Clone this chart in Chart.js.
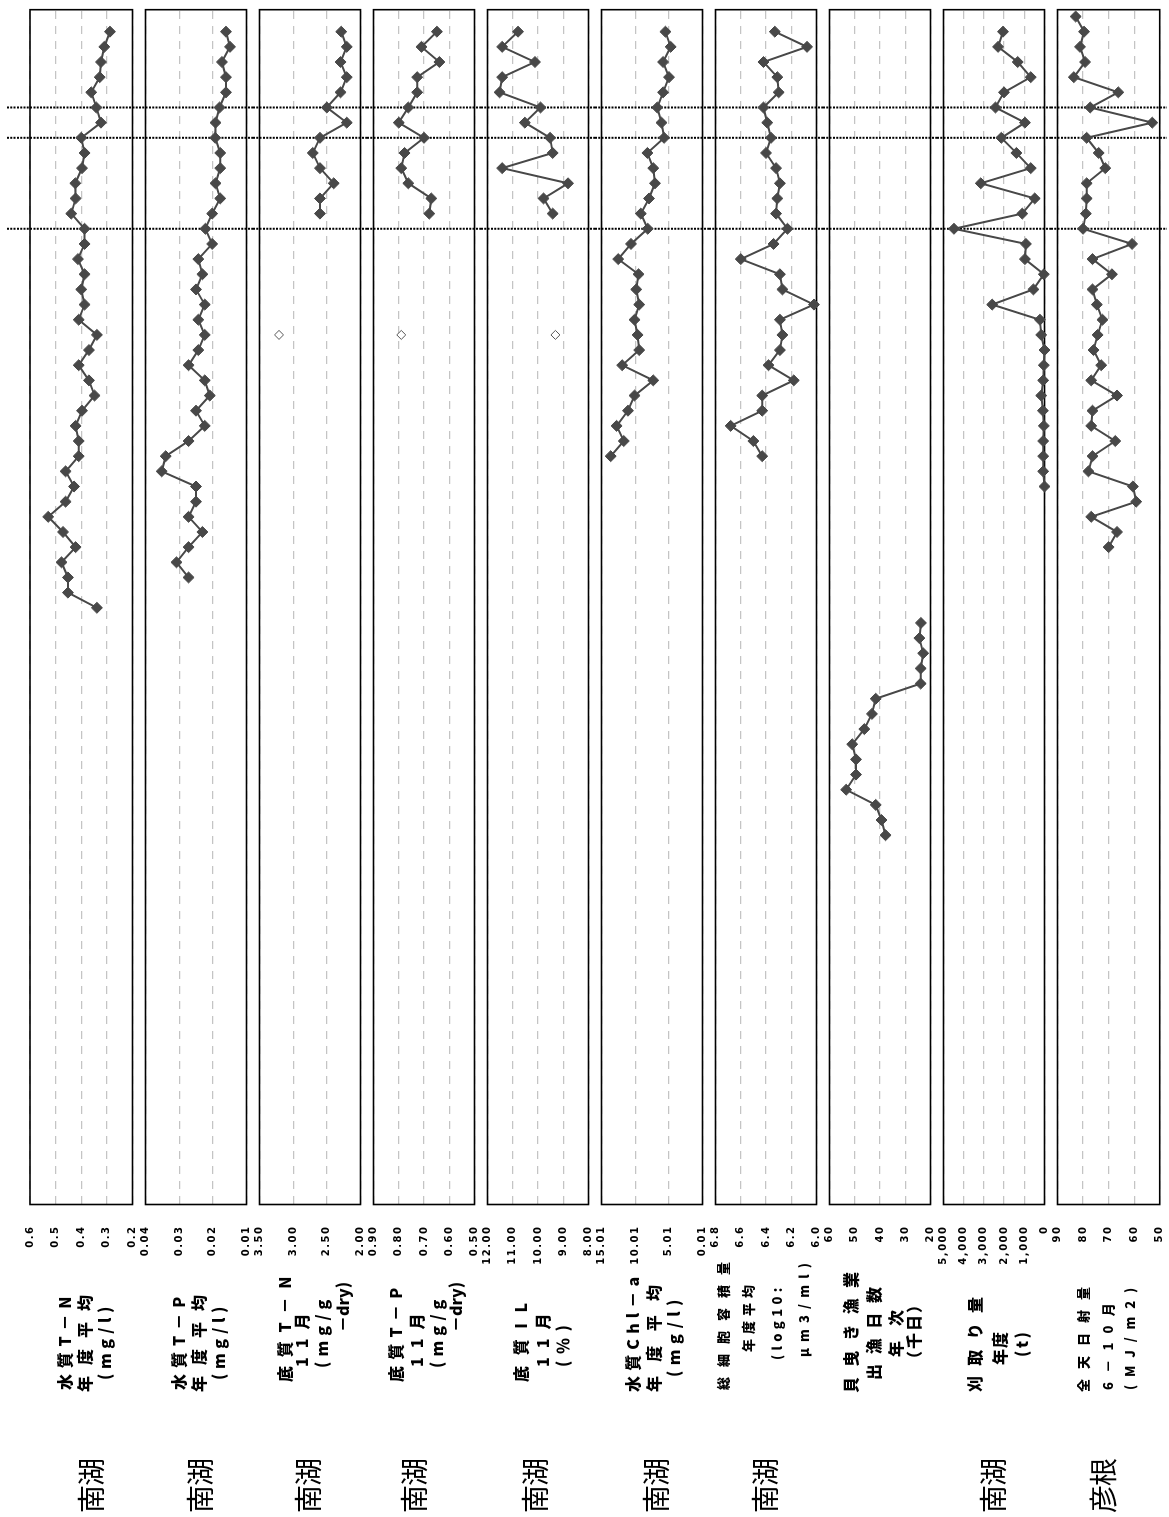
<!DOCTYPE html>
<html>
<head>
<meta charset="utf-8">
<title>南湖 経年変化</title>
<script src="https://cdn.jsdelivr.net/npm/chart.js@4.4.1/dist/chart.umd.min.js"></script>
<style>
  html, body { margin: 0; padding: 0; background: #fff; overflow: hidden; }
  /* 横向きの図を作って -90度回転させる */
  #page { position: absolute; left: 0; top: 0; width: 1517px; height: 1169px;
          transform-origin: 0 0; transform: translateY(1517px) rotate(-90deg); }
  #page canvas { position: absolute; left: 0; }
  .ttl { position: absolute; white-space: pre; font-family: "Noto Sans CJK JP"; font-weight: 900; color: #000; line-height: 1; }
  .loc { position: absolute; white-space: pre; font-family: "Noto Sans CJK JP"; font-weight: 400; color: #000; line-height: 1; }
</style>
</head>
<body>
<div id="page"></div>
<script>
// 横軸（年次）
const yearMin = 1940.64;
const yearMax = 2019.45;
const markYears = [2005, 2011, 2013];

// 水質T-N 年度平均 (mg/l)
const tnWaterStart = 1980;
const tnWater = [0.339, 0.452, 0.452, 0.477, 0.422, 0.471, 0.529, 0.461, 0.428, 0.461,
  0.410, 0.410, 0.422, 0.397, 0.348, 0.370, 0.410, 0.370, 0.339, 0.410,
  0.387, 0.400, 0.387, 0.413, 0.387, 0.387, 0.439, 0.422, 0.423, 0.397,
  0.387, 0.400, 0.323, 0.341, 0.361, 0.328, 0.323, 0.310, 0.288];
const tnTicks = [0.2, 0.3, 0.4, 0.5, 0.6];

// 水質T-P 年度平均 (mg/l)
const tpWaterStart = 1982;
const tpWater = [0.0272, 0.0308, 0.0272, 0.0231, 0.0272, 0.0250, 0.0250, 0.0352, 0.0340, 0.0272,
  0.0224, 0.0250, 0.0209, 0.0224, 0.0272, 0.0243, 0.0224, 0.0243, 0.0224, 0.0250,
  0.0231, 0.0243, 0.0202, 0.0222, 0.0202, 0.0178, 0.0192, 0.0178, 0.0178, 0.0193,
  0.0192, 0.0180, 0.0161, 0.0161, 0.0173, 0.0149, 0.0161];
const tpTicks = [0.01, 0.02, 0.03, 0.04];

// 底質T-N 11月 (mg/g-dry)
const tnSedStart = 2006;
const tnSed = [2.602, 2.602, 2.398, 2.602, 2.709, 2.602, 2.204, 2.50, 2.296, 2.204, 2.296, 2.204, 2.286];
const tnSedOld = [1998, 3.21];
const tnSedTicks = [2.0, 2.5, 3.0, 3.5];

// 底質T-P 11月 (mg/g-dry)
const tpSedStart = 2006;
const tpSed = [0.679, 0.671, 0.762, 0.790, 0.777, 0.700, 0.800, 0.762, 0.727, 0.727, 0.639, 0.710, 0.649];
const tpSedOld = [1998, 0.79];
const tpSedTicks = [0.5, 0.6, 0.7, 0.8, 0.9];

// 底質IL 11月 (%)
const ilStart = 2006;
const il = [9.42, 9.78, 8.81, 11.42, 9.42, 9.52, 10.52, 9.90, 11.52, 11.42, 10.12, 11.42, 10.79];
const ilOld = [1998, 9.31];
const ilTicks = [8, 9, 10, 11, 12];

// 水質Chl-a 年度平均
const chlStart = 1990;
const chl = [13.65, 11.70, 12.77, 11.08, 10.10, 7.32, 11.94, 9.41, 9.65, 10.10,
  9.41, 9.85, 9.51, 12.53, 10.63, 8.14, 9.17, 7.95, 7.07, 7.32,
  8.19, 5.71, 6.10, 6.73, 5.86, 4.98, 5.86, 4.74, 5.52];
const chlTicks = [0.01, 5.01, 10.01, 15.01];

// 総細胞容積量 年度平均 (log10: μm3/ml)
const cellStart = 1990;
const cell = [6.43, 6.50, 6.68, 6.43, 6.43, 6.18, 6.38, 6.29, 6.27, 6.29,
  6.02, 6.27, 6.29, 6.60, 6.34, 6.23, 6.32, 6.31, 6.29, 6.32,
  6.40, 6.36, 6.39, 6.42, 6.30, 6.31, 6.42, 6.075, 6.33];
const cellTicks = [6.0, 6.2, 6.4, 6.6, 6.8];

// 貝曳き漁業 出漁日数 年次 (千日)
const shellStart = 1965;
const shell = [37.8, 39.4, 41.7, 53.4, 49.5, 49.5, 51.0, 46.2, 43.2, 41.7, 23.9, 23.9, 22.9, 24.4, 23.8];
const shellTicks = [20, 30, 40, 50, 60];

// 刈取り量 年度 (t)
const harvestStart = 1988;
const harvest = [0, 65, 65, 65, 32, 80, 162, 65, 32, 0,
  162, 227, 2589, 550, 32, 971, 922, 4482, 1100, 485,
  3155, 680, 1392, 2136, 971, 2427, 2006, 680, 1327, 2298, 2055];
const harvestTicks = [0, 1000, 2000, 3000, 4000, 5000];

// 全天日射量 6-10月 (MJ/m2) 彦根
const solarStart = 1984;
const solar = [70.0, 66.7, 76.8, 59.2, 60.5, 77.9, 76.3, 67.4, 76.8, 76.3,
  66.7, 76.8, 72.9, 75.9, 74.3, 72.4, 74.6, 76.3, 68.7, 76.3,
  60.8, 80.0, 78.9, 78.6, 78.6, 71.3, 73.9, 78.6, 52.9, 77.2,
  66.2, 83.6, 79.2, 81.2, 79.6, 82.9];
const solarTicks = [50, 60, 70, 80, 90];

const panels = [
  { start: tnWaterStart, values: tnWater, ticks: tnTicks, dec: 1, loc: '南湖', locY: 90,
    title: [['水質T－N', 127, 220, 63.5], ['年度平均', 125, 222, 83.5], ['(mg/l)', 137, 210, 103.5]] },
  { start: tpWaterStart, values: tpWater, ticks: tpTicks, dec: 2, loc: '南湖', locY: 199,
    title: [['水質T－P', 127, 220, 178], ['年度平均', 125, 222, 198], ['(mg/l)', 137, 210, 218]] },
  { start: tnSedStart, values: tnSed, open: tnSedOld, ticks: tnSedTicks, dec: 2, loc: '南湖', locY: 306.5,
    title: [['底質T－N', 135, 240, 283.5], ['11月', 150, 204, 300.5], ['(mg/g', 149, 217, 320.5], ['－dry)', 185, 235, 341.5]] },
  { start: tpSedStart, values: tpSed, open: tpSedOld, ticks: tpSedTicks, dec: 2, loc: '南湖', locY: 412.5,
    title: [['底質T－P', 135, 229, 395], ['11月', 150, 204, 416], ['(mg/g', 149, 217, 436], ['－dry)', 185, 235, 455]] },
  { start: ilStart, values: il, open: ilOld, ticks: ilTicks, dec: 2, loc: '南湖', locY: 533.5,
    title: [['底質IL', 135, 214, 520], ['11月', 150, 204, 542], ['(％)', 150, 192, 562]] },
  { start: chlStart, values: chl, ticks: chlTicks, dec: 2, loc: '南湖', locY: 655,
    title: [['水質Chl－a', 125, 240, 631.5], ['年度平均', 125, 232, 652.5], ['(mg/l)', 140, 217, 672.5]] },
  { start: cellStart, values: cell, ticks: cellTicks, dec: 1, loc: '南湖', locY: 763.5, fs: 13,
    title: [['総細胞容積量', 127, 255, 722.5], ['年度平均', 165, 232, 747.5], ['(log10:', 157, 229, 776.5], ['μm3/ml)', 160, 254, 803.5]] },
  { start: shellStart, values: shell, ticks: shellTicks, dec: 0, loc: '', locY: 0,
    title: [['貝曳き漁業', 124, 245, 850], ['出漁日数', 137, 230, 872.5], ['年次', 160, 207, 895], ['（千日）', 150, 220, 912.5]] },
  { start: harvestStart, values: harvest, ticks: harvestTicks, dec: 0, loc: '南湖', locY: 991.5,
    title: [['刈取り量', 125, 220, 973.5], ['年度', 152, 185, 999], ['(t)', 160, 185, 1021]] },
  { start: solarStart, values: solar, ticks: solarTicks, dec: 0, loc: '彦根', locY: 1101.5, fs: 13,
    title: [['全天日射量', 125, 230, 1082.5], ['6－10月', 127, 214, 1107.5], ['(MJ/m2)', 127, 229, 1129]] }
];

const page = document.getElementById('page');
const PITCH = 114.08, BOX_H = 103, TOP0 = 30;
const AREA_LEFT = 312.5, AREA_RIGHT = 1507.3;
const INK = '#484848';

function fmt(v, dec) {
  return Number(v).toLocaleString('en-US', { minimumFractionDigits: dec, maximumFractionDigits: dec });
}

// 文字列を x0〜x1 の幅に字間で合わせて置く
function placeText(cls, text, x0, x1, yc, size) {
  const s = document.createElement('span');
  s.className = cls;
  s.textContent = text;
  s.style.fontSize = size + 'px';
  s.style.left = x0 + 'px';
  s.style.top = (yc - size / 2) + 'px';
  page.appendChild(s);
  const n = [...text].length;
  if (n > 1) {
    const ls = (x1 - x0 - s.offsetWidth) / (n - 1);
    s.style.letterSpacing = ls + 'px';
  }
}

// 枠・縦の点線・字間
const framePlugin = {
  id: 'frame',
  beforeDraw(chart) {
    chart.ctx.letterSpacing = '1.5px';
  },
  beforeDatasetsDraw(chart, args, opts) {
    const { ctx, chartArea: a } = chart;
    const x = chart.scales.x;
    ctx.save();
    ctx.strokeStyle = '#000';
    ctx.lineWidth = 1.6;
    ctx.strokeRect(a.left, a.top, a.right - a.left, a.bottom - a.top);
    ctx.lineWidth = 2;
    ctx.setLineDash([2, 1.3]);
    markYears.forEach(yr => {
      const px = x.getPixelForValue(yr);
      ctx.beginPath();
      ctx.moveTo(px, opts.y0);
      ctx.lineTo(px, opts.y1);
      ctx.stroke();
    });
    ctx.restore();
  }
};

panels.forEach((p, i) => {
  const top = TOP0 + i * PITCH;
  const cTop = i === 0 ? 0 : Math.round(top - 5.5);
  const cBot = i === panels.length - 1 ? 1169 : Math.round(top + BOX_H + 5.5);
  const cv = document.createElement('canvas');
  cv.width = 1517;
  cv.height = cBot - cTop;
  cv.style.top = cTop + 'px';
  cv.style.width = '1517px';
  cv.style.height = (cBot - cTop) + 'px';
  page.appendChild(cv);

  const datasets = [{
    data: p.values.map((v, j) => ({ x: p.start + j, y: v })),
    borderColor: INK,
    backgroundColor: INK,
    borderWidth: 2,
    pointStyle: 'rectRot',
    pointRadius: 5.5,
    pointBorderWidth: 1,
    pointBorderColor: INK,
    pointBackgroundColor: INK,
    tension: 0,
    clip: false
  }];
  if (p.open) {
    datasets.push({
      data: [{ x: p.open[0], y: p.open[1] }],
      showLine: false,
      pointStyle: 'rectRot',
      pointRadius: 4.5,
      pointBackgroundColor: '#fff',
      pointBorderColor: '#555',
      pointBorderWidth: 1,
      clip: false
    });
  }

  new Chart(cv, {
    type: 'line',
    data: { datasets },
    options: {
      responsive: false,
      animation: false,
      devicePixelRatio: 1,
      layout: { padding: { left: 0, right: 1517 - AREA_RIGHT, top: top - cTop, bottom: cBot - (top + BOX_H) } },
      plugins: {
        legend: { display: false },
        tooltip: { enabled: false },
        frame: { y0: i === 0 ? 7 : 0, y1: i === panels.length - 1 ? 1167 - cTop : cBot - cTop }
      },
      scales: {
        x: { type: 'linear', min: yearMin, max: yearMax, display: false },
        y: {
          type: 'linear',
          min: p.ticks[0],
          max: p.ticks[p.ticks.length - 1],
          afterBuildTicks: ax => { ax.ticks = p.ticks.map(v => ({ value: v })); },
          afterFit: ax => {
            ax.width = AREA_LEFT;
            ax.paddingTop = 0;
            ax.paddingBottom = 0;
          },
          ticks: {
            callback: v => fmt(v, p.dec),
            font: { family: 'DejaVu Sans', weight: 'bold', size: 10 },
            color: '#000',
            padding: 21,
            autoSkip: false
          },
          grid: { color: '#c4c4c4', lineWidth: 1.3, drawTicks: false },
          border: { display: false, dash: [8, 7] }
        }
      }
    },
    plugins: [framePlugin]
  });

  p.title.forEach(t => placeText('ttl', t[0], t[1], t[2], t[3], p.fs || 16));
  if (p.loc) placeText('loc', p.loc, 4, 59, p.locY, 28);
});
</script>
</body>
</html>
